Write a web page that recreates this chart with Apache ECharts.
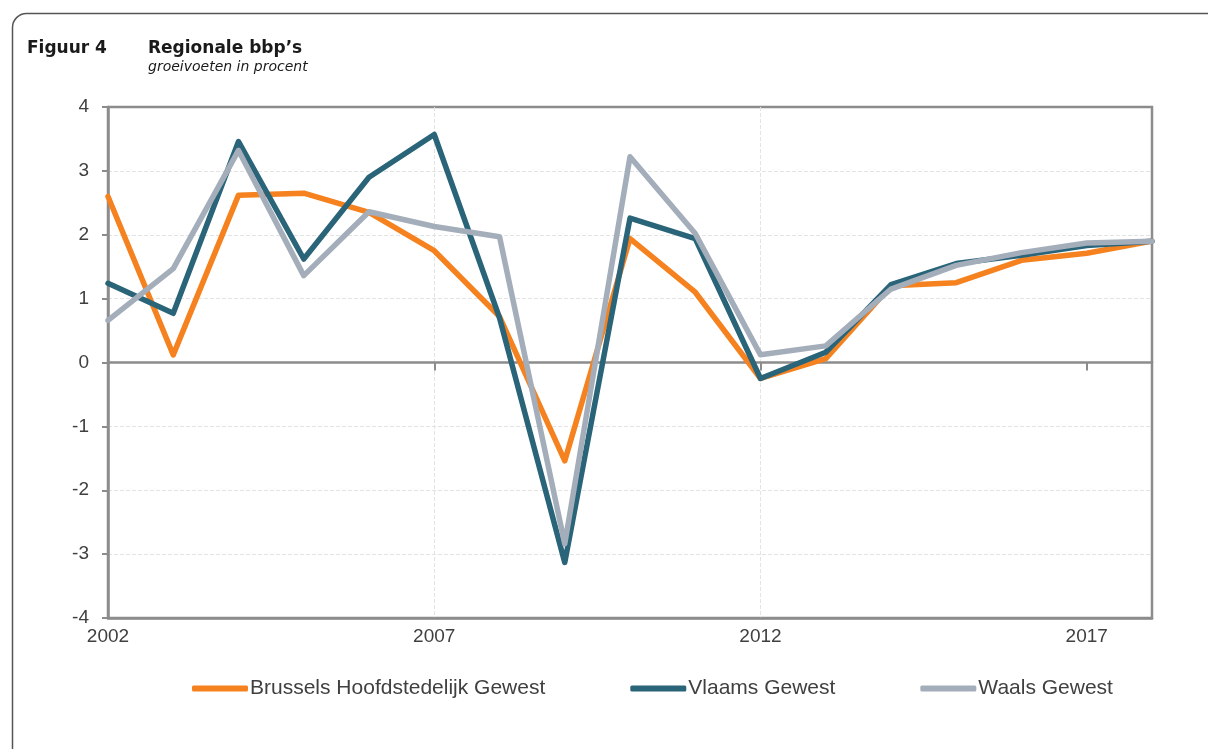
<!DOCTYPE html>
<html>
<head>
<meta charset="utf-8">
<script src="https://cdn.jsdelivr.net/npm/echarts@6/dist/echarts.min.js"></script>
<style>
  html, body { margin: 0; padding: 0; background: #fff; }
  #chart { width: 1208px; height: 749px; }
</style>
</head>
<body>
<div id="chart"></div>
<script>
// groeivoeten in procent
const years = ['2002', '2003', '2004', '2005', '2006', '2007', '2008', '2009', '2010',
  '2011', '2012', '2013', '2014', '2015', '2016', '2017', '2018']
const brussel = [2.6, 0.12, 2.62, 2.65, 2.35, 1.75, 0.72, -1.54, 1.94, 1.1, -0.25, 0.06, 1.2, 1.25, 1.6, 1.71, 1.9]
const vlaanderen = [1.24, 0.77, 3.46, 1.62, 2.9, 3.57, 0.7, -3.13, 2.26, 1.94, -0.25, 0.16, 1.22, 1.55, 1.68, 1.83, 1.9]
const wallonie = [0.66, 1.47, 3.32, 1.36, 2.36, 2.13, 1.97, -2.84, 3.22, 2.02, 0.12, 0.26, 1.15, 1.52, 1.72, 1.87, 1.9]
const seriesNames = ['Brussels Hoofdstedelijk Gewest', 'Vlaams Gewest', 'Waals Gewest']
const colors = ['#f5821f', '#2a6479', '#a4aebb']

const font = "'Liberation Sans', Arial, sans-serif"
const titleFont = "'DejaVu Sans', Verdana, sans-serif"
const axisGrey = '#8c8c8c'

const chart = echarts.init(document.getElementById('chart'), null, { renderer: 'canvas' })

const mkLine = (name, data, color) => {
  return {
    name: name,
    type: 'line',
    data: data,
    symbol: 'none',
    xAxisIndex: 0,
    lineStyle: { color: color, width: 5.5, cap: 'round', join: 'round' },
    itemStyle: { color: color },
  }
}

const option = {
  animation: false,
  backgroundColor: '#fff',
  graphic: [{
    type: 'rect',
    shape: { x: 12.5, y: 13.5, width: 1400, height: 900, r: 14 },
    style: { fill: 'none', stroke: '#555', lineWidth: 1.5 },
  }],
  title: [{
    text: 'Figuur 4',
    left: 22,
    top: 35,
    textStyle: { fontFamily: titleFont, fontWeight: 'bold', fontSize: 17, color: '#1a1a1a' },
  }, {
    text: 'Regionale bbp’s',
    subtext: 'groeivoeten in procent',
    left: 143,
    top: 35,
    itemGap: 3,
    textStyle: { fontFamily: titleFont, fontWeight: 'bold', fontSize: 17, color: '#1a1a1a' },
    subtextStyle: { fontFamily: titleFont, fontStyle: 'italic', fontSize: 14, color: '#1a1a1a' },
  }],
  legend: {
    data: seriesNames,
    left: 192,
    top: 678,
    padding: 0,
    icon: 'roundRect',
    itemWidth: 56,
    itemHeight: 6,
    itemGap: 85,
    textStyle: { fontFamily: font, fontSize: 21, color: '#404040', padding: [0, 0, 0, -3] },
  },
  grid: {
    left: 108,
    right: 56,
    top: 107,
    bottom: 131,
    show: true,
    borderColor: axisGrey,
    borderWidth: 2.5,
  },
  xAxis: [{
    type: 'category',
    data: years,
    boundaryGap: false,
    position: 'bottom',
    axisLine: { onZero: false, lineStyle: { color: axisGrey, width: 2.5 } },
    axisTick: { show: false },
    axisLabel: { interval: 4, margin: 9, fontFamily: font, fontSize: 19, color: '#404040' },
    splitLine: { show: true, interval: 4, showMinLine: false, showMaxLine: false, lineStyle: { color: '#e3e3e3', type: 'dashed', width: 1 } },
  }, {
    type: 'category',
    data: years,
    boundaryGap: false,
    axisLine: { onZero: true, lineStyle: { color: axisGrey, width: 2.5 } },
    axisTick: { show: true, inside: true, interval: 4, length: 8, lineStyle: { color: axisGrey, width: 2 } },
    axisLabel: { show: false },
    splitLine: { show: false },
  }],
  yAxis: {
    type: 'value',
    min: -4,
    max: 4,
    interval: 1,
    axisLine: { show: true, lineStyle: { color: axisGrey, width: 2.5 } },
    axisTick: { show: true, length: 6, lineStyle: { color: axisGrey, width: 2 } },
    axisLabel: { margin: 19, fontFamily: font, fontSize: 19, color: '#404040' },
    splitLine: { showMinLine: false, showMaxLine: false, lineStyle: { color: '#e3e3e3', type: 'dashed', width: 1 } },
  },
  series: [
    mkLine(seriesNames[0], brussel, colors[0]),
    mkLine(seriesNames[1], vlaanderen, colors[1]),
    mkLine(seriesNames[2], wallonie, colors[2]),
  ],
}

chart.setOption(option)
</script>
</body>
</html>
